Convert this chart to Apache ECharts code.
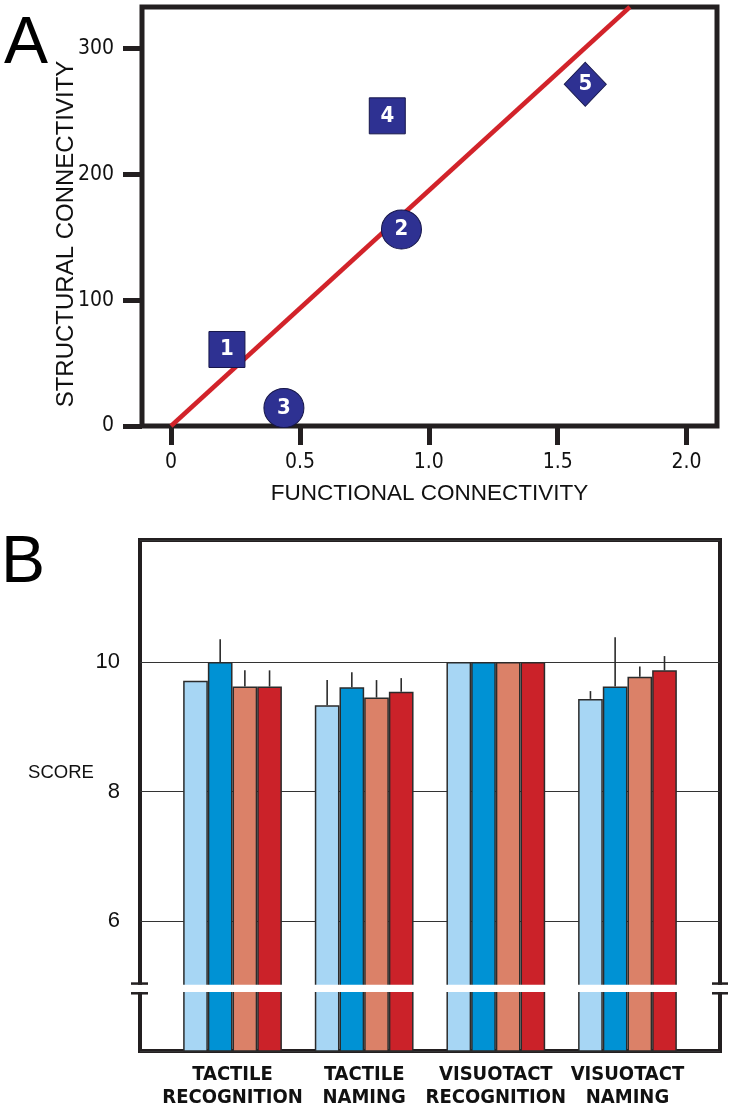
<!DOCTYPE html>
<html>
<head>
<meta charset="utf-8">
<script src="https://cdn.jsdelivr.net/npm/echarts@6/dist/echarts.min.js"></script>
<style>
html,body{margin:0;padding:0;background:#fff;}
#chart{width:732px;height:1109px;}
</style>
</head>
<body>
<div id="chart"></div>
<script>
// ---------- Panel A data ----------
const pointLabels = ['1', '2', '3', '4', '5'];
const functionalConnectivity = [0.217, 0.894, 0.438, 0.839, 1.607];
const structuralConnectivity = [60.8, 156.2, 14.3, 246.5, 271.6];
const fitLineX = [0, 1.78];
const fitLineY = [0, 333];
const xTicksA = [0, 0.5, 1, 1.5, 2];
const yTicksA = [0, 100, 200, 300];

// ---------- Panel B data ----------
const categories = ['TACTILE\nRECOGNITION', 'TACTILE\nNAMING', 'VISUOTACT\nRECOGNITION', 'VISUOTACT\nNAMING'];
const barsLightBlue = [9.71, 9.33, 10, 9.43];
const barsBlue      = [10.0, 9.61, 10, 9.62];
const barsSalmon    = [9.62, 9.45, 10, 9.77];
const barsRed       = [9.62, 9.54, 10, 9.87];
const errLightBlue  = [null, 9.72, null, 9.55];
const errBlue       = [10.35, 9.84, null, 10.38];
const errSalmon     = [9.87, 9.72, null, 9.93];
const errRed        = [9.87, 9.75, null, 10.09];
const yTicksB = [6, 8, 10];
const axisBreak = [4.89, 5.04];

// ---------- styles ----------
const INK = '#231f20';
const NARROW = '"Liberation Sans Narrow", "Arial Narrow", "DejaVu Sans Condensed", sans-serif';
const REG = '"Liberation Sans", Arial, sans-serif';
const markerShape = {'1': 'rect', '2': 'circle', '3': 'circle', '4': 'rect', '5': 'diamond'};
const markerSize = {rect: [36, 36], circle: [40, 39], diamond: [42, 44]};
const barColors = ['#a7d6f4', '#0092d4', '#db8168', '#cb2229'];
const barSets = [barsLightBlue, barsBlue, barsSalmon, barsRed];
const errSets = [errLightBlue, errBlue, errSalmon, errRed];

const scatterData = pointLabels.map((n, i) => {
  const s = markerShape[n];
  return {name: n, value: [functionalConnectivity[i], structuralConnectivity[i]], symbol: s, symbolSize: markerSize[s]};
});
const errData = [];
errSets.forEach((arr, s) => arr.forEach((v, c) => {
  if (v !== null) errData.push([c, barSets[s][c], v, s]);
}));

const fmtA = v => (v === 0 ? '0' : v.toFixed(1));

const chart = echarts.init(document.getElementById('chart'), null, {renderer: 'canvas'});
const option = {
  animation: false,
  backgroundColor: '#fff',
  grid: [
    {left: 142, top: 7, width: 575, height: 419, show: true, borderWidth: 5, borderColor: INK, backgroundColor: 'transparent'},
    {left: 140, top: 540, width: 580, height: 511, show: true, borderWidth: 4, borderColor: INK, backgroundColor: 'transparent'},
    {left: 166.7, top: 540, width: 526.6, height: 511}
  ],
  xAxis: [
    {gridIndex: 0, type: 'value', min: -0.1125, max: 2.118,
     axisLine: {show: false, onZero: false}, splitLine: {show: false},
     axisTick: {show: true, customValues: xTicksA, length: 19, inside: false, lineStyle: {color: INK, width: 5}},
     axisLabel: {customValues: xTicksA, formatter: fmtA, margin: 26, fontSize: 21, color: '#111', fontFamily: NARROW},
     name: 'FUNCTIONAL CONNECTIVITY', nameLocation: 'middle', nameGap: 56,
     nameTextStyle: {fontSize: 22.5, color: '#111', fontFamily: REG}},
    {gridIndex: 1, type: 'value', min: 0, max: 1, show: false},
    {gridIndex: 2, type: 'category', data: categories,
     axisLine: {show: false}, axisTick: {show: false}, splitLine: {show: false},
     axisLabel: {interval: 0, margin: 12, fontSize: 20, lineHeight: 23, fontWeight: 'bold', color: '#111', fontFamily: NARROW}}
  ],
  yAxis: [
    {gridIndex: 0, type: 'value', min: 0, max: 333,
     axisLine: {show: false, onZero: false}, splitLine: {show: false},
     axisTick: {show: true, customValues: yTicksA, length: 19, inside: false, lineStyle: {color: INK, width: 5}},
     axisLabel: {customValues: yTicksA, margin: 28, fontSize: 21, color: '#111', fontFamily: NARROW}},
    {gridIndex: 1, type: 'value', min: 4, max: 11.88, interval: 2,
     axisLine: {show: false}, axisTick: {show: false},
     splitLine: {show: true, lineStyle: {color: '#333', width: 1}},
     axisLabel: {formatter: v => (yTicksB.indexOf(v) >= 0 ? String(v) : ''), margin: 20, fontSize: 22, color: '#111', fontFamily: REG}},
    {gridIndex: 2, type: 'value', min: 4, max: 11.88, show: false}
  ],
  series: [
    {type: 'line', xAxisIndex: 0, yAxisIndex: 0, data: fitLineX.map((x, i) => [x, fitLineY[i]]),
     symbol: 'none', clip: true, lineStyle: {color: '#d2232a', width: 4.5}, z: 2},
    {type: 'scatter', xAxisIndex: 0, yAxisIndex: 0, data: scatterData, z: 4,
     itemStyle: {color: '#2e3192', borderColor: '#16164a', borderWidth: 1, opacity: 1},
     label: {show: true, position: 'inside', formatter: '{b}', color: '#fff', fontSize: 22, fontWeight: 'bold', fontFamily: NARROW}},
    ...barSets.map((arr, s) => ({
      type: 'bar', xAxisIndex: 2, yAxisIndex: 2, data: arr, barWidth: '18.75%', barGap: '0%',
      itemStyle: {color: barColors[s], borderColor: '#2b2b2b', borderWidth: 1.5}, z: 2
    })),
    {type: 'custom', xAxisIndex: 2, yAxisIndex: 2, data: errData, z: 3,
     encode: {x: 0, y: [1, 2]},
     renderItem: function (params, api) {
       const c = api.value(0);
       const p1 = api.coord([c, api.value(1)]);
       const p2 = api.coord([c, api.value(2)]);
       const bw = api.size([1, 0])[0] * 0.1875;
       const x = p1[0] + (api.value(3) - 1.5) * bw;
       return {type: 'line', shape: {x1: x, y1: p1[1], x2: x, y2: p2[1]}, style: {stroke: '#2b2b2b', lineWidth: 1.6}};
     }}
  ]
};
chart.setOption(option);

// axis break overlay, placed through the score axis scale
const yA = chart.convertToPixel({yAxisIndex: 1}, axisBreak[1]);
const yB = chart.convertToPixel({yAxisIndex: 1}, axisBreak[0]);
const gl = 140, gr = 720;
chart.setOption({
  graphic: [
    {type: 'text', left: 4, top: 12, z: 100, style: {text: 'A', fontSize: 66, fontFamily: REG, fill: '#000'}},
    {type: 'text', left: 1, top: 531, z: 100, style: {text: 'B', fontSize: 66, fontFamily: REG, fill: '#000'}},
    {type: 'text', x: 61, y: 773, z: 100, style: {text: 'SCORE', fontSize: 18.5, fontFamily: REG, fill: '#111', align: 'center', verticalAlign: 'middle'}},
    {type: 'text', x: 66, y: 234, rotation: Math.PI / 2, z: 100,
     style: {text: 'STRUCTURAL CONNECTIVITY', fontSize: 24, fontFamily: REG, fill: '#111', align: 'center', verticalAlign: 'middle'}},
    {type: 'rect', z: 100, shape: {x: gl - 12, y: yA + 1.2, width: gr - gl + 24, height: yB - yA - 2.4}, style: {fill: '#fff'}},
    {type: 'line', z: 101, shape: {x1: gl - 9, y1: yA, x2: gl + 8, y2: yA}, style: {stroke: INK, lineWidth: 2.5}},
    {type: 'line', z: 101, shape: {x1: gl - 9, y1: yB, x2: gl + 8, y2: yB}, style: {stroke: INK, lineWidth: 2.5}},
    {type: 'line', z: 101, shape: {x1: gr - 8, y1: yA, x2: gr + 8, y2: yA}, style: {stroke: INK, lineWidth: 2.5}},
    {type: 'line', z: 101, shape: {x1: gr - 8, y1: yB, x2: gr + 8, y2: yB}, style: {stroke: INK, lineWidth: 2.5}}
  ]
});
</script>
</body>
</html>
